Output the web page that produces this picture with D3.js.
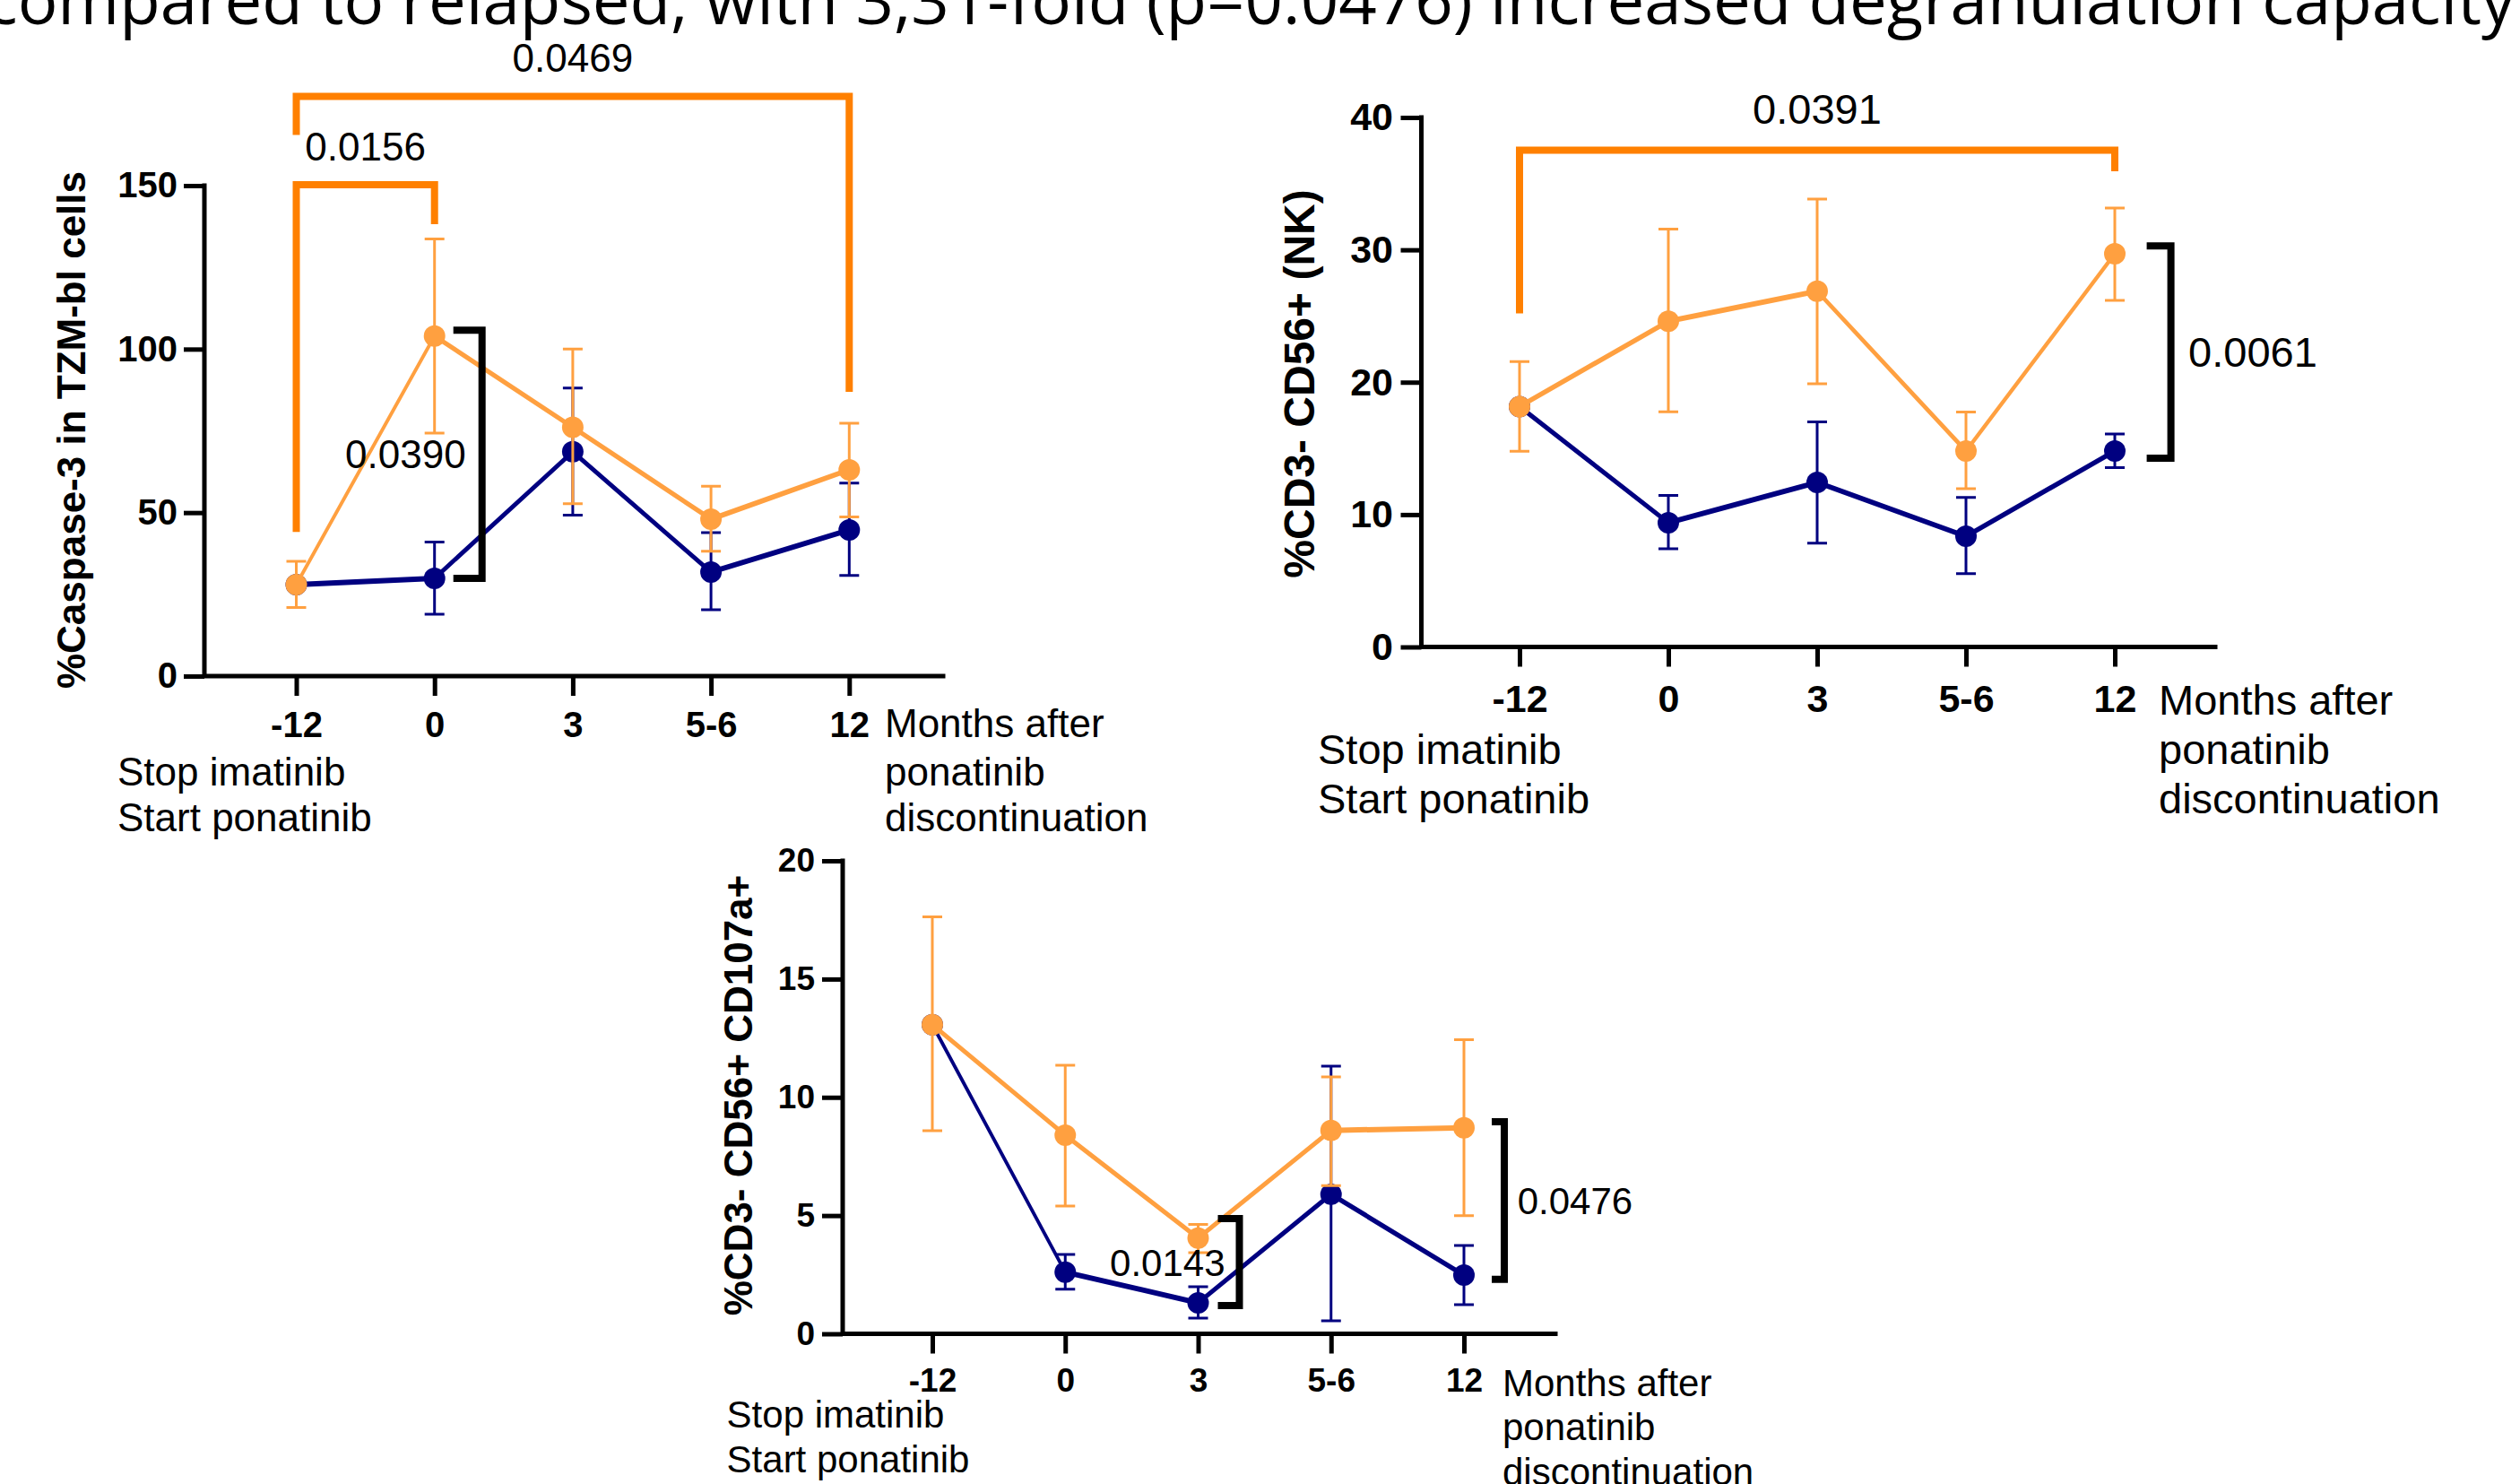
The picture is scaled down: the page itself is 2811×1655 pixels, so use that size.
<!DOCTYPE html>
<meta charset="utf-8">
<title>NK cell function after ponatinib discontinuation</title>
<script src="https://d3js.org/d3.v7.min.js"></script>
<style>
  body { margin: 0; background: #fff; }
  svg { display: block; }
</style>
<body>
<svg width="2811" height="1655"></svg>
<script>

// ---- data -------------------------------------------------------------
var timepoints = ["-12", "0", "3", "5-6", "12"];
var titleText = "compared to relapsed, with 3,31-fold (p=0.0476) increased degranulation capacity";

// %Caspase-3 in TZM-bl cells
var caspaseTicks = [0, 50, 100, 150];
var caspaseNonRelapsed   = [28.0, 104.0, 76.1, 48.0, 63.1];
var caspaseNonRelapsedHi = [35.1, 133.7, 100.0, 58.1, 77.3];
var caspaseNonRelapsedLo = [21.0, 74.3, 52.7, 38.2, 48.7];
var caspaseRelapsed   = [28.0, 29.9, 68.6, 31.8, 44.7];
var caspaseRelapsedHi = [28.0, 41.0, 88.1, 43.9, 59.0];
var caspaseRelapsedLo = [28.0, 18.9, 49.2, 20.3, 30.8];
var caspaseBrackets = [
  {from: "-12", to: "12", top: 177.3, fromEnd: 165.5, toEnd: 86.9, p: "0.0469"},
  {from: "-12", to: "0", top: 150.3, fromEnd: 44.1, toEnd: 138.2, p: "0.0156"}
];
var caspaseSideBrackets = [{at: "0", hi: 105.8, lo: 29.9, p: "0.0390"}];

// %CD3- CD56+ (NK)
var nkTicks = [0, 10, 20, 30, 40];
var nkNonRelapsed   = [18.16, 24.6, 26.88, 14.8, 29.7];
var nkNonRelapsedHi = [21.55, 31.57, 33.84, 17.75, 33.15];
var nkNonRelapsedLo = [14.78, 17.76, 19.88, 11.95, 26.18];
var nkRelapsed   = [18.16, 9.38, 12.43, 8.36, 14.8];
var nkRelapsedHi = [18.16, 11.44, 17.0, 11.3, 16.09];
var nkRelapsedLo = [18.16, 7.42, 7.84, 5.54, 13.55];
var nkBrackets = [{from: "-12", to: "12", top: 37.52, fromEnd: 25.2, toEnd: 35.93, p: "0.0391"}];
var nkSideBrackets = [{at: "12", hi: 30.3, lo: 14.26, p: "0.0061"}];

// %CD3- CD56+ CD107a+
var degTicks = [0, 5, 10, 15, 20];
var degNonRelapsed   = [13.07, 8.4, 4.05, 8.6, 8.71];
var degNonRelapsedHi = [17.63, 11.36, 4.63, 10.86, 12.44];
var degNonRelapsedLo = [8.59, 5.4, 3.43, 6.27, 5.0];
var degRelapsed   = [13.07, 2.61, 1.31, 5.9, 2.48];
var degRelapsedHi = [13.07, 3.36, 1.99, 11.32, 3.73];
var degRelapsedLo = [13.07, 1.89, 0.66, 0.55, 1.23];
var degBrackets = [];
var degSideBrackets = [
  {at: "3", hi: 4.87, lo: 1.19, p: "0.0143"},
  {at: "12", hi: 8.97, lo: 2.3, p: "0.0476"}
];

var rightNote = ["Months after", "ponatinib", "discontinuation"];
var leftNote = ["Stop imatinib", "Start ponatinib"];

// ---- style ------------------------------------------------------------
var navy = "#000080", orange = "#FFA040", bracketOrange = "#FF8000";
var sans = "'Liberation Sans', Arial, sans-serif";
var penK = 2, penW = 3;   // series lines look like a tall pen: flat parts thicker

var svg = d3.select("svg");

// title, clipped at the top like the source figure
var title = svg.append("text")
    .attr("x", -16).attr("y", 27)
    .style("font-family", "'Open Sans', 'Noto Sans', sans-serif")
    .style("font-size", "100px")
    .text(titleText);
var tw = title.node().getComputedTextLength();
title.style("font-size", (100 * 2822 / tw) + "px");

var panels = [
  {
    label: "%Caspase-3 in TZM-bl cells", ticks: caspaseTicks,
    series: [
      {mean: caspaseRelapsed, hi: caspaseRelapsedHi, lo: caspaseRelapsedLo, color: navy},
      {mean: caspaseNonRelapsed, hi: caspaseNonRelapsedHi, lo: caspaseNonRelapsedLo, color: orange}
    ],
    brackets: caspaseBrackets, sides: caspaseSideBrackets,
    sideLayout: [{dx: 53, arm: 32, align: "left", gap: 18}],
    xRange: [330.5, 947.3], yRange: [754, 207], axisX: 228, axisEnd: 1052,
    tickFont: 40, textFont: 44, labelFont: 44, labelX: 63, labelY: 479.5,
    tickPad: 7, xLabelBase: 821.7, bracketGap: 27,
    rightX: 987, rightBase: [822, 876, 927], leftX: 131, leftBase: [876, 927]
  },
  {
    label: "%CD3- CD56+ (NK)", ticks: nkTicks,
    series: [
      {mean: nkRelapsed, hi: nkRelapsedHi, lo: nkRelapsedLo, color: navy},
      {mean: nkNonRelapsed, hi: nkNonRelapsedHi, lo: nkNonRelapsedLo, color: orange}
    ],
    brackets: nkBrackets, sides: nkSideBrackets,
    sideLayout: [{dx: 62.6, arm: 27, align: "right", gap: 19.5}],
    xRange: [1695, 2359], yRange: [721.5, 131], axisX: 1585.5, axisEnd: 2471,
    tickFont: 43, textFont: 47, labelFont: 48, labelX: 1431.5, labelY: 428,
    tickPad: 8.5, xLabelBase: 794, bracketGap: 29.5,
    rightX: 2408, rightBase: [796.7, 851.7, 907], leftX: 1470, leftBase: [851.7, 907]
  },
  {
    label: "%CD3- CD56+ CD107a+", ticks: degTicks,
    series: [
      {mean: degRelapsed, hi: degRelapsedHi, lo: degRelapsedLo, color: navy},
      {mean: degNonRelapsed, hi: degNonRelapsedHi, lo: degNonRelapsedLo, color: orange}
    ],
    brackets: degBrackets, sides: degSideBrackets,
    sideLayout: [{dx: 46, arm: 24, align: "left", gap: 16}, {dx: 45, arm: 14, align: "right", gap: 14.7}],
    xRange: [1040, 1633], yRange: [1487.5, 960], axisX: 940, axisEnd: 1735,
    tickFont: 37, textFont: 42, labelFont: 44, labelX: 807, labelY: 1221.5,
    tickPad: 8, xLabelBase: 1551.8, bracketGap: 27,
    rightX: 1676, rightBase: [1556.7, 1606, 1655.5], leftX: 810.6, leftBase: [1591.7, 1641.7]
  }
];

panels.forEach(drawPanel);

function drawPanel(p) {
  var x = d3.scalePoint().domain(timepoints).range(p.xRange);
  var y = d3.scaleLinear().domain([0, d3.max(p.ticks)]).range(p.yRange);
  var g = svg.append("g");

  // axes
  var yAxis = g.append("g")
      .attr("transform", "translate(" + p.axisX + ",0)")
      .call(d3.axisLeft(y).tickValues(p.ticks).tickSize(23).tickPadding(p.tickPad));
  var xAxis = g.append("g")
      .attr("transform", "translate(0," + p.yRange[0] + ")")
      .call(d3.axisBottom(x).tickSize(22)
        .tickPadding(p.xLabelBase - p.yRange[0] - 22 - 0.71 * p.tickFont));
  [yAxis, xAxis].forEach(function(a) {
    a.select(".domain").remove();
    a.attr("font-family", sans).attr("font-size", p.tickFont).attr("font-weight", "bold");
    a.selectAll("line").attr("stroke", "#000").attr("stroke-width", 5);
    a.selectAll("text").attr("fill", "#000");
  });
  g.append("path")
      .attr("d", "M" + p.axisX + "," + p.yRange[1] + "V" + p.yRange[0] + "H" + p.axisEnd)
      .attr("fill", "none").attr("stroke", "#000").attr("stroke-width", 5)
      .attr("stroke-linecap", "square");

  // y label
  g.append("text")
      .attr("transform", "translate(" + (p.labelX + 0.72 * p.labelFont) + "," + p.labelY + ") rotate(-90)")
      .attr("text-anchor", "middle")
      .style("font-family", sans).style("font-size", p.labelFont + "px").style("font-weight", "bold")
      .text(p.label);

  // notes under the x axis
  var notes = g.append("g").style("font-family", sans).style("font-size", p.textFont + "px");
  rightNote.forEach(function(t, i) {
    notes.append("text").attr("x", p.rightX).attr("y", p.rightBase[i]).text(t);
  });
  leftNote.forEach(function(t, i) {
    notes.append("text").attr("x", p.leftX).attr("y", p.leftBase[i]).text(t);
  });

  // series: error bars, line, markers
  p.series.forEach(function(s) {
    var sg = g.append("g");
    s.mean.forEach(function(m, i) {
      if (s.hi[i] === s.lo[i]) return;
      var cx = x(timepoints[i]);
      sg.append("path")
          .attr("d", "M" + cx + "," + y(s.hi[i]) + "V" + y(s.lo[i]) +
                     "M" + (cx - 11) + "," + y(s.hi[i]) + "H" + (cx + 11) +
                     "M" + (cx - 11) + "," + y(s.lo[i]) + "H" + (cx + 11))
          .attr("fill", "none").attr("stroke", s.color).attr("stroke-width", 3);
    });
    sg.append("g").attr("transform", "scale(1," + penK + ")")
      .append("path")
        .datum(s.mean)
        .attr("d", d3.line()
          .x(function(d, i) { return x(timepoints[i]); })
          .y(function(d) { return y(d) / penK; }))
        .attr("fill", "none").attr("stroke", s.color).attr("stroke-width", penW)
        .attr("stroke-linejoin", "round");
    sg.selectAll("circle")
      .data(s.mean)
      .enter().append("circle")
        .attr("cx", function(d, i) { return x(timepoints[i]); })
        .attr("cy", function(d) { return y(d); })
        .attr("r", 12)
        .attr("fill", s.color);
  });

  // significance brackets across time points (orange)
  p.brackets.forEach(function(b) {
    var x0 = x(b.from), x1 = x(b.to), yt = y(b.top);
    g.append("path")
        .attr("d", "M" + x0 + "," + y(b.fromEnd) + "V" + yt + "H" + x1 + "V" + y(b.toEnd))
        .attr("fill", "none").attr("stroke", bracketOrange).attr("stroke-width", 8)
        .attr("stroke-linejoin", "miter");
    g.append("text")
        .attr("x", (x0 + x1) / 2).attr("y", yt - p.bracketGap)
        .attr("text-anchor", "middle")
        .style("font-family", sans).style("font-size", p.textFont + "px")
        .text(b.p);
  });

  // group comparison brackets at one time point (black)
  p.sides.forEach(function(b, i) {
    var L = p.sideLayout[i];
    var vx = x(b.at) + L.dx, y0 = y(b.hi), y1 = y(b.lo);
    g.append("path")
        .attr("d", "M" + (vx - L.arm) + "," + y0 + "H" + vx + "V" + y1 + "H" + (vx - L.arm))
        .attr("fill", "none").attr("stroke", "#000").attr("stroke-width", 8)
        .attr("stroke-linejoin", "miter");
    g.append("text")
        .attr("x", L.align === "left" ? vx - L.gap : vx + L.gap)
        .attr("y", (y0 + y1) / 2 + 0.358 * p.textFont)
        .attr("text-anchor", L.align === "left" ? "end" : "start")
        .style("font-family", sans).style("font-size", p.textFont + "px")
        .text(b.p);
  });
}

</script>
</body>
